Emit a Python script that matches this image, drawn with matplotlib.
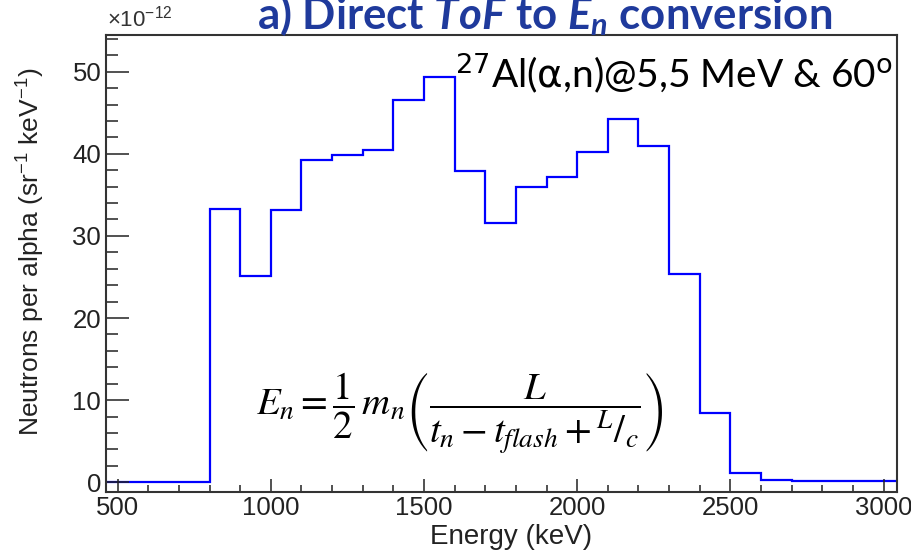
import numpy as np
import matplotlib
matplotlib.use("Agg")
import matplotlib.pyplot as plt
from matplotlib.ticker import MultipleLocator

# neutron yield per 100 keV bin, units of 1e-12 per alpha per sr per keV
bin_edges = np.arange(400, 3200, 100)
yield_e12 = [0.0, 0.0, 0.0, 0.0,
             33.3, 25.1, 33.1, 39.2, 39.9, 40.5, 46.5, 49.3,
             37.9, 31.6, 36.0, 37.2, 40.2, 44.2, 40.9, 25.4,
             8.4, 1.1, 0.25, 0.2, 0.2, 0.15, 0.1]

x_ticks = [500, 1000, 1500, 2000, 2500, 3000]
y_ticks = [0, 10, 20, 30, 40, 50]

plt.rcParams["font.family"] = ["Liberation Sans", "DejaVu Sans"]
plt.rcParams["mathtext.fontset"] = "custom"
plt.rcParams["mathtext.rm"] = "Liberation Sans"
plt.rcParams["mathtext.it"] = "Lato:bold:italic"
plt.rcParams["mathtext.bf"] = "Lato:bold"

fig = plt.figure(figsize=(9.11, 5.52), dpi=100)
ax = fig.add_axes([0.1164, 0.1087, 0.8683, 0.8279])

ax.stairs(yield_e12, bin_edges, baseline=None, color="#0000ff", lw=1.6)

ax.set_xlim(462, 3044)
ax.set_ylim(-1.19, 54.47)
ax.set_xticks(x_ticks)
ax.set_yticks(y_ticks)
ax.xaxis.set_minor_locator(MultipleLocator(100))
ax.yaxis.set_minor_locator(MultipleLocator(2))

ax.tick_params(axis="both", which="both", direction="in", colors="#222222",
               width=1.1, top=False, right=False)
ax.tick_params(axis="x", which="major", length=9.4, pad=3, labelsize=18.5)
ax.tick_params(axis="x", which="minor", length=5)
ax.tick_params(axis="y", which="major", length=16.6, pad=3.5, labelsize=18.5)
ax.tick_params(axis="y", which="minor", length=8.6)
for side in ax.spines.values():
    side.set_linewidth(1.5)
    side.set_color("#333333")

ax.set_xlabel("Energy (keV)", fontsize=20, color="#222222")
ax.xaxis.set_label_coords(0.512, -0.071)
ax.set_ylabel("Neutrons per alpha (sr$^{-1}$ keV$^{-1}$)", fontsize=19,
              color="#222222")
ax.yaxis.set_label_coords(-0.075, 0.525)

# exponent of the y axis, ROOT style
fig.text(0.118, 0.966, r"$\times10^{-12}$", fontsize=16, color="#333333",
         ha="left", va="center")

fig.text(0.598, 0.948, r"a) Direct $ToF$ to $E_n$ conversion",
         fontsize=31.5, color="#1f3a9c", fontweight="bold", family="Lato",
         ha="center", va="baseline")

ax.text(0.995, 0.884, r"$^{27}$Al($\mathrm{\alpha}$,n)@5,5 MeV & 60$^{\mathrm{o}}$",
        transform=ax.transAxes, fontsize=28, family="Lato", color="black",
        math_fontfamily="dejavusans", ha="right", va="baseline")

ax.text(0.447, 0.172,
        r"$E_n = \dfrac{1}{2}\,m_n\left(\dfrac{L}{t_n - t_{flash} + {}^{L}/_{c}}\right)$",
        transform=ax.transAxes, fontsize=28, math_fontfamily="stix",
        ha="center", va="center")

fig.savefig("out.png", dpi=100)
